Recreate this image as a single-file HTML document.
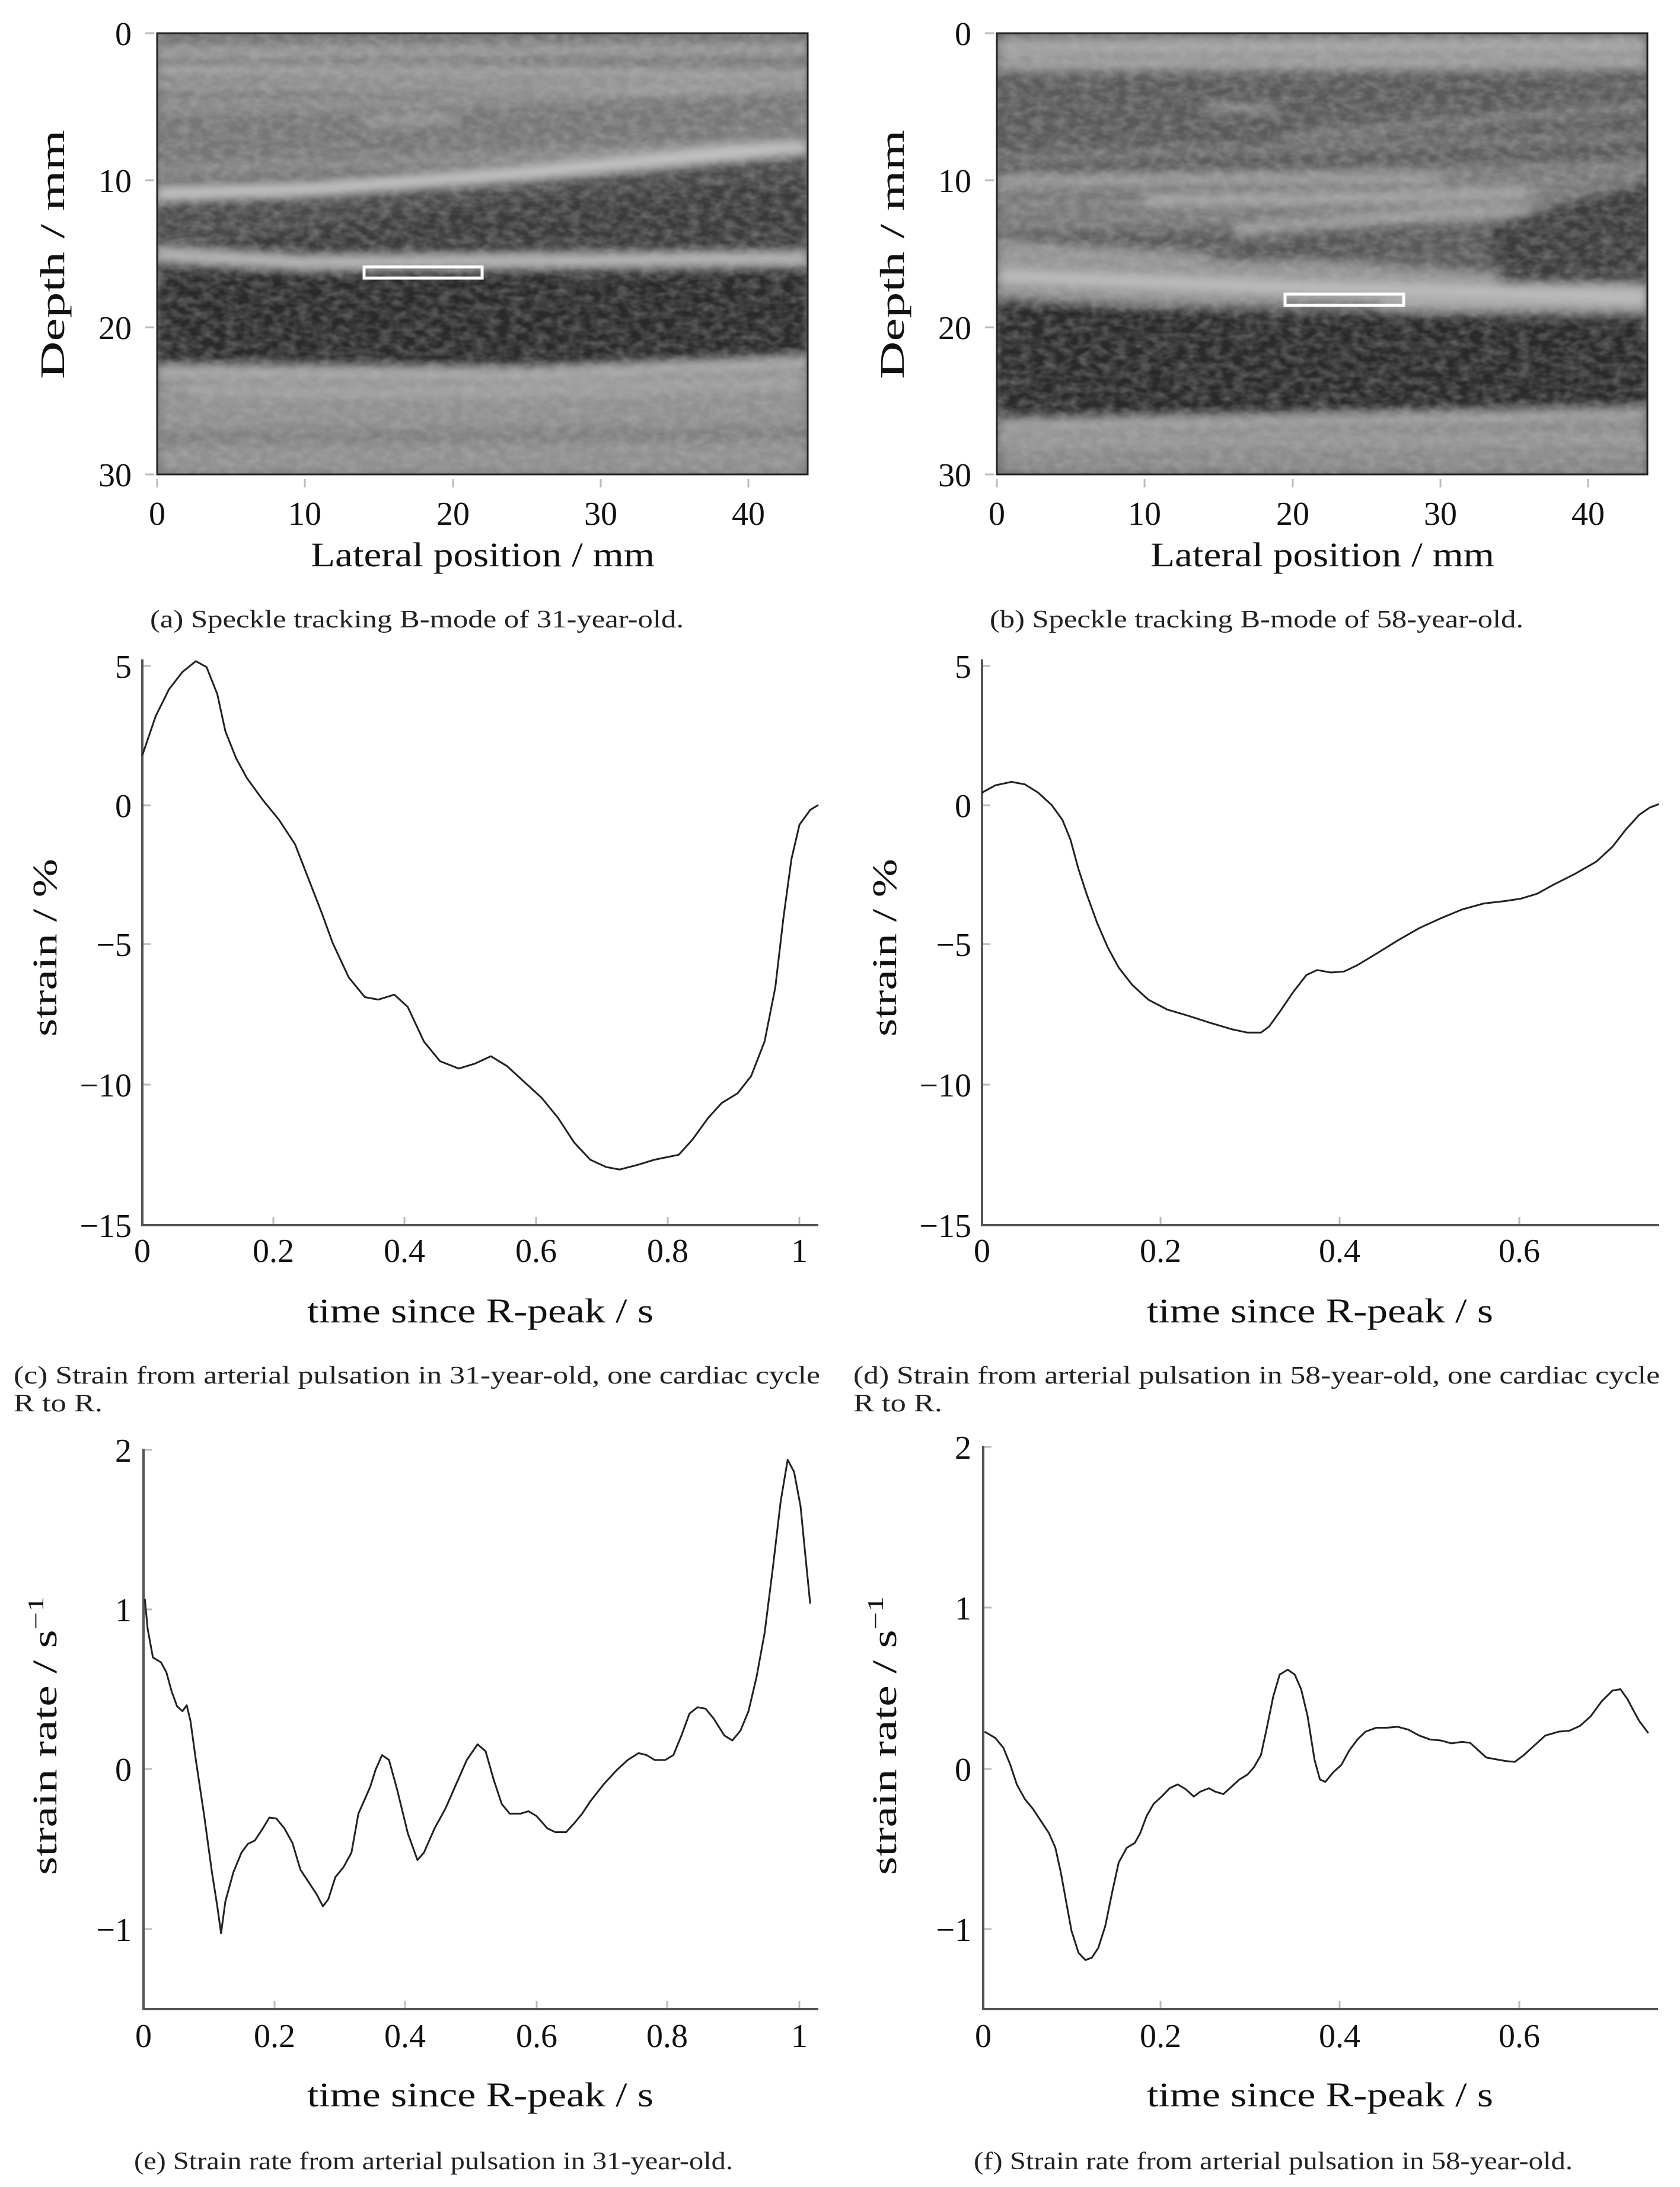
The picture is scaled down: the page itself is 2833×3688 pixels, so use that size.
<!DOCTYPE html>
<html><head><meta charset="utf-8"><style>
html,body{margin:0;padding:0;background:#fff;}
svg{display:block;}
text{font-family:"Liberation Serif",serif;fill:#111;}
.tk{font-size:56px;}
.al{font-size:58px;}
.cap{font-size:42px;fill:#222;}
.gt{stroke:#bbb;stroke-width:3;}
.ax{stroke:#555;stroke-width:4;fill:none;}
.cv{stroke:#222;stroke-width:3;fill:none;stroke-linejoin:round;}
</style></head><body>
<svg width="2833" height="3688" viewBox="0 0 2833 3688" xmlns="http://www.w3.org/2000/svg">
<defs>
<filter id="bl" x="-10%" y="-10%" width="120%" height="120%"><feGaussianBlur stdDeviation="0.35"/></filter>
<filter id="sp" x="0" y="0" width="100%" height="100%">
<feTurbulence type="fractalNoise" baseFrequency="0.05 0.08" numOctaves="2" seed="3"/>
<feColorMatrix type="matrix" values="0 0 0 0 0.5  0 0 0 0 0.5  0 0 0 0 0.5  1.3 0 0 0 -0.4"/>
</filter>
</defs>

<!-- ===== (a) ===== -->
<svg x="265" y="56" width="1097" height="744" viewBox="0 0 44 30" preserveAspectRatio="none">
<rect width="44" height="30" fill="#6e6e6e"/>
<g filter="url(#bl)">
<rect x="0" y="0" width="44" height="9" fill="#777"/>
<path d="M0 1.3 L44 1.1" stroke="#aaa" stroke-width="0.5"/>
<path d="M0 2.5 L20 2.6 L44 2.8" stroke="#b0b0b0" stroke-width="0.5"/>
<path d="M0 3.6 L44 3.6" stroke="#aaa" stroke-width="0.4"/>
<path d="M0 5 L15 4.8 L44 3.7" stroke="#999" stroke-width="0.5"/>
<path d="M14 6 L20 5.8" stroke="#aaa" stroke-width="0.4"/>
<path d="M0 11 L44 8 L44 30 L0 30 Z" fill="#4c4c4c"/>
<path d="M18 12 L44 10 L44 15 L0 15 Z" fill="#3a3a3a"/>
<path d="M0 10.9 L10 10.6 L25 9.5 L44 7.7" stroke="#cfcfcf" stroke-width="0.8" fill="none"/>
<path d="M0 9.4 L20 8.6 L44 7.3" stroke="#999" stroke-width="0.4" fill="none"/>
<path d="M0 15 L10 15.6 L44 15.3" stroke="#c8c8c8" stroke-width="0.7" fill="none"/>
<path d="M0 16.2 L44 16.2 L44 22.2 L25 22.8 L0 22.6 Z" fill="#2a2a2a"/>
<path d="M0 22.8 L25 23 L44 22.2 L44 30 L0 30 Z" fill="#909090"/>
<path d="M0 22.9 L25 23.1 L44 22.3" stroke="#bdbdbd" stroke-width="0.5" fill="none"/>
<path d="M2 24.3 L20 24.4 L44 23.8" stroke="#aaa" stroke-width="0.5" fill="none"/>
<path d="M0 27.5 L44 27.2" stroke="#7a7a7a" stroke-width="0.8" fill="none"/>
</g>
</svg>
<rect x="265" y="56" width="1097" height="744" filter="url(#sp)" opacity="0.5"/>
<rect x="265" y="56" width="1097" height="744" fill="none" stroke="#222" stroke-width="3"/>
<rect x="614" y="450" width="199" height="19" fill="none" stroke="#fff" stroke-width="5"/>
<g class="gt"><line x1="245" y1="56" x2="260" y2="56"/><line x1="245" y1="304" x2="260" y2="304"/><line x1="245" y1="552" x2="260" y2="552"/><line x1="245" y1="800" x2="260" y2="800"/>
<line x1="265" y1="808" x2="265" y2="822"/><line x1="514" y1="808" x2="514" y2="822"/><line x1="764" y1="808" x2="764" y2="822"/><line x1="1013" y1="808" x2="1013" y2="822"/><line x1="1262" y1="808" x2="1262" y2="822"/></g>
<g class="tk" text-anchor="end"><text x="222" y="76">0</text><text x="222" y="324">10</text><text x="222" y="572">20</text><text x="222" y="820">30</text></g>
<g class="tk" text-anchor="middle"><text x="265" y="885">0</text><text x="514" y="885">10</text><text x="764" y="885">20</text><text x="1013" y="885">30</text><text x="1262" y="885">40</text></g>
<text class="al" x="814" y="955" text-anchor="middle" textLength="580" lengthAdjust="spacingAndGlyphs">Lateral position / mm</text>
<text class="al" transform="translate(108,429) rotate(-90)" text-anchor="middle" textLength="420" lengthAdjust="spacingAndGlyphs">Depth / mm</text>
<text class="cap" x="253" y="1058" textLength="900" lengthAdjust="spacingAndGlyphs">(a) Speckle tracking B-mode of 31-year-old.</text>

<!-- ===== (b) ===== -->
<svg x="1681" y="56" width="1097" height="744" viewBox="0 0 44 30" preserveAspectRatio="none">
<rect width="44" height="30" fill="#5a5a5a"/>
<g filter="url(#bl)">
<rect x="0" y="0" width="44" height="2.6" fill="#8a8a8a"/>
<path d="M0 1 L44 0.8" stroke="#b5b5b5" stroke-width="0.5"/>
<path d="M0 2.2 L44 1.9" stroke="#aaa" stroke-width="0.5"/>
<path d="M14 5 L19 5.2" stroke="#aaa" stroke-width="0.4"/>
<path d="M20 7 L44 5" stroke="#8a8a8a" stroke-width="0.5"/>
<path d="M0 8.5 L44 7" stroke="#888" stroke-width="0.4"/>
<path d="M0 9.5 L20 9.2 L44 8.5 L44 13 L0 13.5 Z" fill="#7a7a7a"/>
<path d="M0 10 L30 9.8" stroke="#a8a8a8" stroke-width="0.5" fill="none"/>
<path d="M10 11.4 L25 11.2 L36 10.8" stroke="#b5b5b5" stroke-width="0.5" fill="none"/>
<path d="M16 13.5 L30 12.2 L44 12" stroke="#aaa" stroke-width="0.6" fill="none"/>
<path d="M0 14 L15 15 L30 16 L44 17 L44 18.5 L0 18.5 Z" fill="#959595"/>
<path d="M14 15.5 C 18 13.5, 24 14, 28 15.5 Z" fill="#555"/>
<path d="M33 13 L44 10 L44 17 L34 17 Z" fill="#3c3c3c"/>
<path d="M0 16.5 L20 17.3 L44 17.8" stroke="#c5c5c5" stroke-width="0.7" fill="none"/>
<path d="M26 18.5 L44 18.6" stroke="#bbb" stroke-width="0.5" fill="none"/>
<path d="M0 18 L20 19 L44 19.2 L44 26 L0 26.5 Z" fill="#2c2c2c"/>
<path d="M0 26.3 L44 25.6 L44 30 L0 30 Z" fill="#8a8a8a"/>
<path d="M0 26.6 L44 25.8" stroke="#b0b0b0" stroke-width="0.5" fill="none"/>
<path d="M0 27.8 L44 27.6" stroke="#a0a0a0" stroke-width="0.5" fill="none"/>
</g>
</svg>
<rect x="1681" y="56" width="1097" height="744" filter="url(#sp)" opacity="0.5"/>
<rect x="1681" y="56" width="1097" height="744" fill="none" stroke="#222" stroke-width="3"/>
<rect x="2167" y="496" width="200" height="19" fill="none" stroke="#fff" stroke-width="5"/>
<g class="gt"><line x1="1661" y1="56" x2="1676" y2="56"/><line x1="1661" y1="304" x2="1676" y2="304"/><line x1="1661" y1="552" x2="1676" y2="552"/><line x1="1661" y1="800" x2="1676" y2="800"/>
<line x1="1681" y1="808" x2="1681" y2="822"/><line x1="1930" y1="808" x2="1930" y2="822"/><line x1="2180" y1="808" x2="2180" y2="822"/><line x1="2429" y1="808" x2="2429" y2="822"/><line x1="2678" y1="808" x2="2678" y2="822"/></g>
<g class="tk" text-anchor="end"><text x="1638" y="76">0</text><text x="1638" y="324">10</text><text x="1638" y="572">20</text><text x="1638" y="820">30</text></g>
<g class="tk" text-anchor="middle"><text x="1681" y="885">0</text><text x="1930" y="885">10</text><text x="2180" y="885">20</text><text x="2429" y="885">30</text><text x="2678" y="885">40</text></g>
<text class="al" x="2230" y="955" text-anchor="middle" textLength="580" lengthAdjust="spacingAndGlyphs">Lateral position / mm</text>
<text class="al" transform="translate(1524,429) rotate(-90)" text-anchor="middle" textLength="420" lengthAdjust="spacingAndGlyphs">Depth / mm</text>
<text class="cap" x="1669" y="1058" textLength="900" lengthAdjust="spacingAndGlyphs">(b) Speckle tracking B-mode of 58-year-old.</text>

<!-- ===== (c) ===== -->
<g class="gt"><line x1="240" y1="1123" x2="254" y2="1123"/><line x1="240" y1="1358" x2="254" y2="1358"/><line x1="240" y1="1592" x2="254" y2="1592"/><line x1="240" y1="1829" x2="254" y2="1829"/>
<line x1="461" y1="2052" x2="461" y2="2066"/><line x1="682" y1="2052" x2="682" y2="2066"/><line x1="904" y1="2052" x2="904" y2="2066"/><line x1="1126" y1="2052" x2="1126" y2="2066"/><line x1="1348" y1="2052" x2="1348" y2="2066"/></g>
<path class="ax" d="M240 1112 L240 2066 L1380 2066"/>
<g transform="translate(0,1100) scale(0.9048,0.8307)">
<polyline class="cv" vector-effect="non-scaling-stroke" points="265,210 290,130 315,75 340,40 365,18 385,30 405,85 420,160 440,215 460,255 490,300 520,340 550,390 575,460 600,530 620,590 650,660 680,700 705,705 735,695 760,720 790,790 820,830 855,845 885,835 915,820 945,840 975,870 1010,905 1040,945 1070,995 1100,1030 1130,1045 1155,1050 1190,1040 1220,1030 1265,1020 1290,990 1320,945 1345,915 1375,895 1400,860 1425,790 1445,680 1460,540 1475,420 1490,350 1510,320 1525,310"/>
</g>
<g class="tk" text-anchor="end"><text x="222" y="1143">5</text><text x="222" y="1378">0</text><text x="222" y="1612">−5</text><text x="222" y="1849">−10</text><text x="222" y="2086">−15</text></g>
<g class="tk" text-anchor="middle"><text x="240" y="2128">0</text><text x="461" y="2128">0.2</text><text x="682" y="2128">0.4</text><text x="904" y="2128">0.6</text><text x="1126" y="2128">0.8</text><text x="1348" y="2128">1</text></g>
<text class="al" x="810" y="2230" text-anchor="middle" textLength="584" lengthAdjust="spacingAndGlyphs">time since R-peak / s</text>
<text class="al" transform="translate(95,1598) rotate(-90)" text-anchor="middle" textLength="300" lengthAdjust="spacingAndGlyphs">strain / %</text>
<text class="cap" x="23" y="2333" textLength="1360" lengthAdjust="spacingAndGlyphs">(c) Strain from arterial pulsation in 31-year-old, one cardiac cycle</text>
<text class="cap" x="23" y="2380" textLength="150" lengthAdjust="spacingAndGlyphs">R to R.</text>

<!-- ===== (d) ===== -->
<g class="gt"><line x1="1656" y1="1123" x2="1670" y2="1123"/><line x1="1656" y1="1358" x2="1670" y2="1358"/><line x1="1656" y1="1592" x2="1670" y2="1592"/><line x1="1656" y1="1829" x2="1670" y2="1829"/>
<line x1="1957" y1="2052" x2="1957" y2="2066"/><line x1="2259" y1="2052" x2="2259" y2="2066"/><line x1="2562" y1="2052" x2="2562" y2="2066"/></g>
<path class="ax" d="M1656 1112 L1656 2066 L2798 2066"/>
<g transform="translate(1416,1100) scale(0.9048,0.8307)">
<polyline class="cv" vector-effect="non-scaling-stroke" points="265,285 290,270 320,263 345,268 370,285 395,310 415,340 430,380 445,440 460,490 480,550 500,600 520,640 545,675 575,705 610,725 650,738 690,752 730,765 760,772 785,772 800,760 820,730 845,690 870,655 890,645 915,650 940,648 965,635 1000,612 1040,585 1080,560 1120,540 1160,522 1200,510 1240,505 1270,500 1300,490 1330,472 1370,450 1410,425 1440,395 1465,360 1490,330 1510,315 1527,308"/>
</g>
<g class="tk" text-anchor="end"><text x="1638" y="1143">5</text><text x="1638" y="1378">0</text><text x="1638" y="1612">−5</text><text x="1638" y="1849">−10</text><text x="1638" y="2086">−15</text></g>
<g class="tk" text-anchor="middle"><text x="1656" y="2128">0</text><text x="1957" y="2128">0.2</text><text x="2259" y="2128">0.4</text><text x="2562" y="2128">0.6</text></g>
<text class="al" x="2226" y="2230" text-anchor="middle" textLength="584" lengthAdjust="spacingAndGlyphs">time since R-peak / s</text>
<text class="al" transform="translate(1511,1598) rotate(-90)" text-anchor="middle" textLength="300" lengthAdjust="spacingAndGlyphs">strain / %</text>
<text class="cap" x="1439" y="2333" textLength="1360" lengthAdjust="spacingAndGlyphs">(d) Strain from arterial pulsation in 58-year-old, one cardiac cycle</text>
<text class="cap" x="1439" y="2380" textLength="150" lengthAdjust="spacingAndGlyphs">R to R.</text>

<!-- ===== (e) ===== -->
<g class="gt"><line x1="242" y1="2445" x2="256" y2="2445"/><line x1="242" y1="2714" x2="256" y2="2714"/><line x1="242" y1="2983" x2="256" y2="2983"/><line x1="242" y1="3253" x2="256" y2="3253"/>
<line x1="463" y1="3374" x2="463" y2="3388"/><line x1="683" y1="3374" x2="683" y2="3388"/><line x1="905" y1="3374" x2="905" y2="3388"/><line x1="1125" y1="3374" x2="1125" y2="3388"/><line x1="1348" y1="3374" x2="1348" y2="3388"/></g>
<path class="ax" d="M242 2443 L242 3388 L1380 3388"/>
<g transform="translate(0,2400) scale(0.9048,0.823)">
<polyline class="cv" vector-effect="non-scaling-stroke" points="270,360 275,420 285,480 300,490 310,510 320,550 330,580 340,590 348,578 355,610 365,690 380,800 395,920 405,990 412,1045 420,980 435,920 450,880 462,862 475,855 490,830 502,808 515,810 530,830 545,860 560,915 575,940 590,965 602,990 612,975 625,930 640,910 655,880 668,800 680,770 690,745 700,710 712,680 725,690 740,750 760,840 778,895 790,880 810,830 830,790 850,740 870,690 890,658 905,672 920,730 935,780 950,800 970,800 985,795 1000,805 1020,830 1035,838 1055,838 1070,820 1085,800 1100,775 1125,740 1150,710 1170,690 1190,676 1205,680 1220,690 1240,690 1255,680 1270,640 1285,595 1300,582 1315,585 1330,605 1350,640 1365,650 1380,630 1395,590 1410,520 1425,430 1440,300 1455,160 1468,75 1480,100 1492,170 1500,260 1510,370"/>
</g>
<g class="tk" text-anchor="end"><text x="222" y="2465">2</text><text x="222" y="2734">1</text><text x="222" y="3003">0</text><text x="222" y="3273">−1</text></g>
<g class="tk" text-anchor="middle"><text x="242" y="3452">0</text><text x="463" y="3452">0.2</text><text x="683" y="3452">0.4</text><text x="905" y="3452">0.6</text><text x="1125" y="3452">0.8</text><text x="1348" y="3452">1</text></g>
<text class="al" x="810" y="3552" text-anchor="middle" textLength="584" lengthAdjust="spacingAndGlyphs">time since R-peak / s</text>
<text class="al" transform="translate(95,2927) rotate(-90)" text-anchor="middle" textLength="470" lengthAdjust="spacingAndGlyphs">strain rate / s<tspan dy="-22" font-size="38">−1</tspan></text>
<text class="cap" x="226" y="3658" textLength="1010" lengthAdjust="spacingAndGlyphs">(e) Strain rate from arterial pulsation in 31-year-old.</text>

<!-- ===== (f) ===== -->
<g class="gt"><line x1="1658" y1="2440" x2="1672" y2="2440"/><line x1="1658" y1="2711" x2="1672" y2="2711"/><line x1="1658" y1="2983" x2="1672" y2="2983"/><line x1="1658" y1="3253" x2="1672" y2="3253"/>
<line x1="1957" y1="3374" x2="1957" y2="3388"/><line x1="2259" y1="3374" x2="2259" y2="3388"/><line x1="2562" y1="3374" x2="2562" y2="3388"/></g>
<path class="ax" d="M1658 2438 L1658 3388 L2796 3388"/>
<g transform="translate(1416,2400) scale(0.9048,0.823)">
<polyline class="cv" vector-effect="non-scaling-stroke" points="270,632 290,645 305,665 318,700 330,740 345,770 360,790 375,815 390,840 402,870 412,920 422,980 432,1040 445,1085 458,1100 470,1095 482,1075 495,1030 508,960 520,900 535,870 550,860 560,840 572,805 585,780 600,765 615,748 630,740 645,750 660,765 672,755 688,748 700,755 715,760 730,745 745,730 760,720 772,705 785,680 795,630 808,560 820,515 835,505 848,515 860,545 872,600 885,690 895,730 905,735 920,715 935,700 950,670 965,648 980,632 1000,624 1020,624 1040,622 1060,628 1080,640 1100,648 1120,650 1140,656 1160,653 1175,655 1190,670 1205,685 1220,688 1240,692 1258,694 1275,680 1295,660 1315,640 1340,632 1360,630 1380,620 1400,600 1420,570 1440,548 1455,545 1468,565 1480,590 1490,610 1507,635"/>
</g>
<g class="tk" text-anchor="end"><text x="1638" y="2460">2</text><text x="1638" y="2731">1</text><text x="1638" y="3003">0</text><text x="1638" y="3273">−1</text></g>
<g class="tk" text-anchor="middle"><text x="1658" y="3452">0</text><text x="1957" y="3452">0.2</text><text x="2259" y="3452">0.4</text><text x="2562" y="3452">0.6</text></g>
<text class="al" x="2226" y="3552" text-anchor="middle" textLength="584" lengthAdjust="spacingAndGlyphs">time since R-peak / s</text>
<text class="al" transform="translate(1511,2927) rotate(-90)" text-anchor="middle" textLength="470" lengthAdjust="spacingAndGlyphs">strain rate / s<tspan dy="-22" font-size="38">−1</tspan></text>
<text class="cap" x="1642" y="3658" textLength="1010" lengthAdjust="spacingAndGlyphs">(f) Strain rate from arterial pulsation in 58-year-old.</text>
</svg>
</body></html>
